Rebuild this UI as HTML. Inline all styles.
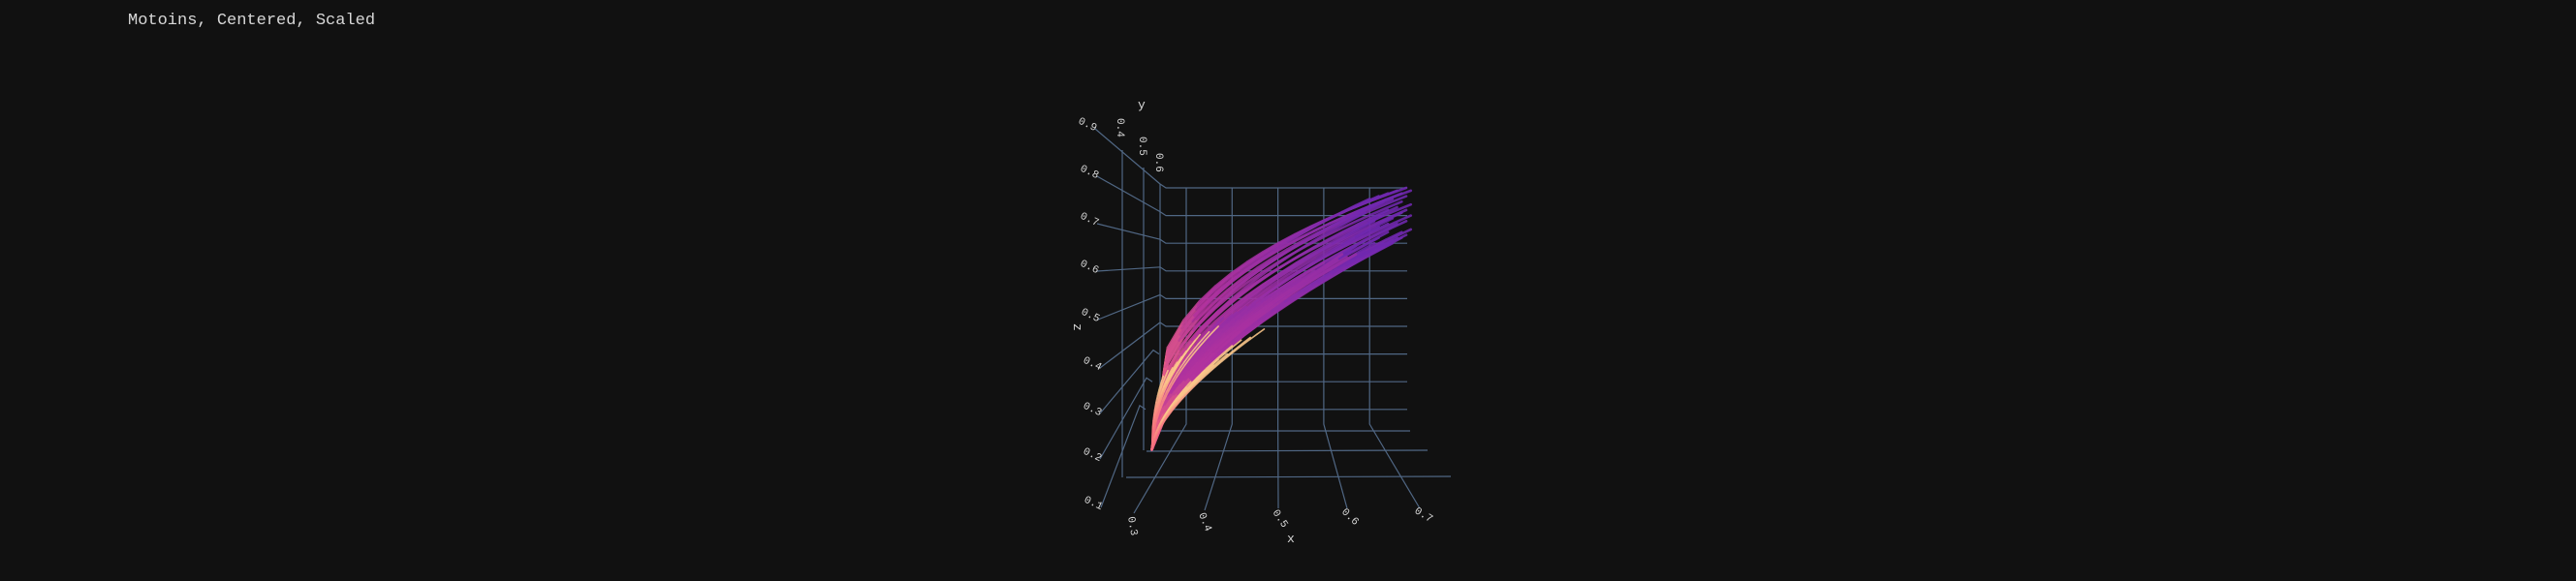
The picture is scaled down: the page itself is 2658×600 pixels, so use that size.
<!DOCTYPE html>
<html><head><meta charset="utf-8"><style>
html,body{margin:0;padding:0;background:#111111;}
svg{display:block;}
text{font-family:"Liberation Mono",monospace;fill:#d8d8d8;}
</style></head><body>
<svg id="chart" width="2658" height="600" viewBox="0 0 2658 600" xmlns="http://www.w3.org/2000/svg">
<rect width="2658" height="600" fill="#111111"/>
<text x="132" y="25" font-size="17">Motoins, Centered, Scaled</text>
<g id="axes" stroke="#506784" stroke-width="1.2" fill="none">
  <line x1="1158" y1="155" x2="1158" y2="493"/>
  <line x1="1180" y1="173" x2="1180" y2="465"/>
  <line x1="1197" y1="190" x2="1197" y2="445"/>
  <line x1="1162" y1="493" x2="1497" y2="492"/>
  <line x1="1183" y1="466" x2="1473" y2="465"/>
  <line x1="1197" y1="445" x2="1455" y2="445"/>
</g>
<g id="zgrid"></g>
<g id="xgrid"></g>
<g id="traces"></g>
<text x="1174" y="112" font-size="13">y</text>
<text x="1104" y="338" font-size="13" transform="rotate(90 1108 338)">z</text>
<text x="1328" y="560" font-size="13">x</text>
<text x="1153" y="122" font-size="11" transform="rotate(90 1153 122)">0.4</text>
<text x="1176" y="141" font-size="11" transform="rotate(90 1176 141)">0.5</text>
<text x="1193" y="158" font-size="11" transform="rotate(90 1193 158)">0.6</text>
</svg>
<script>
const zTicks = [0.9,0.8,0.7,0.6,0.5,0.4,0.3,0.2,0.1];
const zLabelPos = [[1112,127],[1114,176],[1114,225],[1114,274],[1115,324],[1117,374],[1117,421],[1117,468],[1118,518]];
const xTicks = [0.3,0.4,0.5,0.6,0.7];
const startX = 0.225, startZ = -0.045;
const endX = [0.78,0.76,0.79,0.74,0.77,0.72,0.78,0.75,0.70,0.77,0.73,0.79,0.71,0.76,0.74,0.78,0.69,0.77,0.73,0.79,0.75,0.71,0.78,0.74,0.76,0.72,0.79,0.70,0.77,0.74,0.78,0.72,0.76,0.69,0.75,0.71,0.73,0.67,0.72,0.66,0.70,0.64,0.77,0.75,0.73,0.71,0.69,0.67,0.65,0.63,0.61,0.60,0.58,0.56,0.55,0.53,0.51,0.50,0.48,0.46,0.45,0.43,0.41,0.40,0.38,0.37,0.35,0.33,0.32,0.31,0.30,0.29,0.28,0.27,0.26,0.25,0.47,0.44,0.42,0.40,0.39,0.37,0.36,0.34,0.33,0.31,0.30,0.29,0.28,0.27];
const endZ = [0.90,0.89,0.89,0.88,0.88,0.87,0.87,0.86,0.86,0.85,0.85,0.84,0.84,0.83,0.82,0.82,0.81,0.81,0.80,0.80,0.79,0.78,0.78,0.77,0.77,0.76,0.75,0.75,0.74,0.74,0.73,0.72,0.72,0.71,0.70,0.70,0.69,0.69,0.68,0.67,0.67,0.66,0.72,0.71,0.70,0.68,0.67,0.66,0.65,0.64,0.62,0.63,0.60,0.59,0.57,0.56,0.54,0.53,0.51,0.50,0.48,0.47,0.45,0.44,0.43,0.40,0.38,0.37,0.35,0.33,0.31,0.29,0.27,0.25,0.24,0.22,0.39,0.36,0.35,0.33,0.30,0.28,0.26,0.24,0.22,0.20,0.18,0.16,0.14,0.12];
const curvature = [0.34,0.35,0.36,0.36,0.37,0.38,0.39,0.39,0.40,0.41,0.42,0.42,0.43,0.44,0.45,0.45,0.46,0.47,0.48,0.48,0.49,0.50,0.51,0.51,0.52,0.53,0.54,0.54,0.55,0.56,0.57,0.57,0.58,0.59,0.60,0.60,0.61,0.62,0.62,0.63,0.64,0.64,0.62,0.62,0.60,0.63,0.62,0.60,0.58,0.58,0.58,0.55,0.56,0.55,0.56,0.55,0.56,0.55,0.56,0.55,0.56,0.55,0.55,0.54,0.52,0.54,0.52,0.50,0.50,0.50,0.48,0.48,0.46,0.46,0.45,0.45,0.66,0.66,0.64,0.64,0.65,0.64,0.64,0.64,0.62,0.62,0.62,0.62,0.62,0.62];

const NS = "http://www.w3.org/2000/svg";
function px(x){ return 1224 + (x - 0.3) * 473; }
function pz(z){ return 194 + (0.9 - z) * 286; }
function mk(tag, attrs, parent){ const e = document.createElementNS(NS, tag); for (const k in attrs) e.setAttribute(k, attrs[k]); parent.appendChild(e); return e; }

const zg = document.getElementById('zgrid');
zTicks.forEach((z, i) => {
  const y = pz(z);
  const wx = z >= 0.4 ? 1203 : 1203 - (0.4 - z) * 70;
  const l = mk('line', {x1: px(0.255), y1: y, x2: 1452, y2: y, stroke: '#506784', 'stroke-width': 1.2}, zg);
  
  
  const [lx, ly] = zLabelPos[i];
  const c = mk('polyline', {points: `${lx+18},${ly+6} ${wx - 6},${y - 4} ${wx},${y}`, stroke: '#506784', 'stroke-width': 1.2, fill: 'none'}, zg);
  
  
  const t = mk('text', {x: lx, y: ly, 'font-size': 11, transform: `rotate(25 ${lx} ${ly})`}, zg);
  t.textContent = z.toFixed(1);
  
  
});
const xEnds = [[1170,530],[1243,527],[1319,525],[1390,525],[1465,525]];
const xg = document.getElementById('xgrid');
xTicks.forEach((x, i) => {
  const X = px(x);
  const [ex, ey] = xEnds[i];
  const l = mk('polyline', {points: `${X},194 ${X},438 ${ex},${ey}`, stroke: '#506784', 'stroke-width': 1.2, fill: 'none'}, xg);
  
  
  const t = mk('text', {x: ex - 6, y: ey + 4, 'font-size': 11, transform: `rotate(${80 - i*12} ${ex - 6} ${ey + 4})`}, xg);
  t.textContent = x.toFixed(1);
  
  
});

function lerp(a, b, t){ return a + (b - a) * t; }
function hex(c){ return [parseInt(c.slice(1,3),16), parseInt(c.slice(3,5),16), parseInt(c.slice(5,7),16)]; }
function mix(c1, c2, t){ const a = hex(c1), b = hex(c2); return `rgb(${Math.round(lerp(a[0],b[0],t))},${Math.round(lerp(a[1],b[1],t))},${Math.round(lerp(a[2],b[2],t))})`; }
function colorAt(endz, t){
  const start = '#f66b7e';
  if (endz < 0.42) return mix(start, '#fbc78a', Math.min(1, t * 1.6));
  const mid = '#b3339e';
  const end = endz > 0.66 ? '#7028b0' : '#952ea6';
  return t < 0.25 ? mix(start, mid, t / 0.25) : mix(mid, end, (t - 0.25) / 0.75);
}
const tg = document.getElementById('traces');
const n = Math.min(endX.length, endZ.length, curvature.length);
for (let i = 0; i < n; i++) {
  const g = mk('g', {opacity: 0.88}, tg);
  
  
  const dx = endX[i] - startX, dz = endZ[i] - startZ, p = curvature[i];
  const S = 16;
  let prev = [px(startX), pz(startZ)];
  for (let s = 1; s <= S; s++) {
    const t = s / S;
    const pt = [px(startX + dx * t), pz(startZ + dz * Math.pow(t, p))];
    const seg = mk('line', {x1: prev[0], y1: prev[1], x2: pt[0], y2: pt[1], stroke: colorAt(endZ[i], t), 'stroke-width': endZ[i] < 0.42 ? 1.6 : 2.6, 'stroke-linecap': 'round'}, g);
    
    
    prev = pt;
  }
}
</script>
</body></html>
